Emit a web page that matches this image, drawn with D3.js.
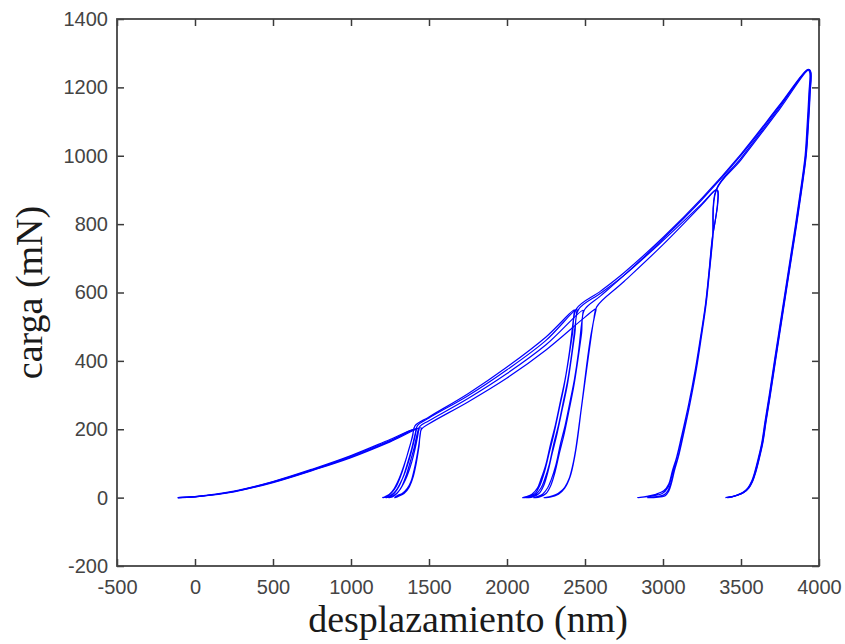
<!DOCTYPE html>
<html>
<head>
<meta charset="utf-8">
<script src="https://cdn.jsdelivr.net/npm/d3@7"></script>
<style>
    body { margin: 0; background: #fff; }
    .tick text { font-family: "Liberation Sans", Arial, sans-serif; font-size: 20px; fill: #444; }
    .tick line { stroke: #3a3a3a; stroke-width: 1.5; }
    .titulo { font-family: "Liberation Serif", "Times New Roman", serif; font-size: 38px; fill: #1a1a1a; }
</style>
</head>
<body>
<div id="Chart_1"></div>
<script>

// ticks
const xTicks = [-500, 0, 500, 1000, 1500, 2000, 2500, 3000, 3500, 4000];
const yTicks = [-200, 0, 200, 400, 600, 800, 1000, 1200, 1400];

// desplazamiento (nm), carga (mN)
const ensayo1 = [
    [-110, 0], [0, 3], [250, 19], [500, 47], [750, 83], [1000, 123], [1250, 170], [1400, 198],
    [1398, 190], [1383, 160], [1361, 125], [1340, 95], [1319, 68], [1298, 45], [1276, 26], [1255, 14], [1233, 6], [1215, 2], [1203, 0],
    [1230, 3], [1260, 14], [1290, 33], [1320, 65], [1345, 100], [1370, 140], [1395, 180], [1410, 210],
    [1500, 236], [1750, 304], [2000, 382], [2250, 470], [2432, 549],
    [2430, 540], [2420, 500], [2400, 425], [2372, 345], [2344, 285], [2310, 212], [2280, 158], [2248, 95], [2216, 52], [2195, 28], [2160, 10], [2125, 3], [2099, 0],
    [2140, 2], [2180, 12], [2210, 35], [2240, 75], [2270, 130], [2300, 185], [2335, 260], [2365, 325], [2395, 405], [2420, 480], [2445, 552],
    [2600, 604], [2750, 658], [3000, 761], [3250, 876], [3500, 1005], [3750, 1150], [3928, 1252],
    [3940, 1245], [3935, 1180], [3924, 1090], [3911, 1000], [3882, 900], [3850, 800], [3816, 700], [3781, 597], [3748, 500], [3715, 402], [3681, 300], [3653, 220], [3633, 160], [3608, 110], [3588, 75], [3568, 48], [3543, 28], [3510, 15], [3470, 7], [3430, 2], [3400, 0]
];

const ensayo2 = [
    [-110, 0], [0, 3], [250, 18], [500, 46], [750, 81], [1000, 121], [1250, 167], [1418, 201],
    [1415, 190], [1400, 158], [1380, 122], [1360, 92], [1340, 66], [1318, 44], [1296, 26], [1275, 14], [1252, 6], [1235, 2], [1222, 0],
    [1250, 3], [1280, 14], [1310, 35], [1340, 68], [1365, 105], [1390, 145], [1412, 188], [1425, 210],
    [1500, 233], [1750, 298], [2000, 374], [2250, 460], [2447, 551],
    [2446, 540], [2436, 500], [2416, 425], [2390, 345], [2363, 285], [2330, 212], [2300, 158], [2270, 95], [2240, 52], [2218, 28], [2185, 10], [2150, 3], [2125, 0],
    [2165, 2], [2205, 12], [2235, 35], [2262, 75], [2290, 130], [2320, 185], [2355, 260], [2385, 325], [2412, 405], [2435, 480], [2458, 550],
    [2600, 598], [2750, 650], [3000, 752], [3250, 860], [3342, 901],
    [3350, 896], [3349, 858], [3334, 808], [3316, 760], [3295, 662], [3272, 565], [3240, 468], [3206, 372], [3164, 272], [3117, 176], [3087, 118], [3060, 78], [3037, 40], [3005, 20], [2955, 10], [2895, 4], [2836, 0],
    [2885, 2], [2945, 6], [2995, 12], [3032, 30], [3058, 65], [3087, 115], [3119, 175], [3166, 275], [3208, 372], [3242, 470], [3274, 567], [3297, 664], [3318, 762], [3340, 900],
    [3500, 993], [3750, 1143], [3932, 1253],
    [3944, 1247], [3939, 1180], [3928, 1090], [3914, 1000], [3885, 900], [3853, 800], [3819, 700], [3784, 597], [3751, 500], [3718, 402], [3684, 300], [3656, 220], [3636, 160], [3611, 110], [3591, 75], [3571, 48], [3546, 28], [3515, 15], [3475, 7], [3440, 2], [3410, 0]
];

const ensayo3 = [
    [-110, 0], [0, 2], [250, 18], [500, 45], [750, 80], [1000, 119], [1250, 165], [1435, 203],
    [1432, 192], [1418, 158], [1400, 122], [1380, 90], [1360, 64], [1338, 42], [1316, 25], [1294, 13], [1272, 6], [1255, 2], [1240, 0],
    [1268, 3], [1298, 14], [1328, 35], [1356, 68], [1380, 105], [1404, 145], [1425, 188], [1440, 208],
    [1500, 225], [1750, 290], [2000, 363], [2250, 447], [2487, 548],
    [2486, 538], [2476, 500], [2458, 425], [2432, 345], [2406, 285], [2373, 212], [2343, 158], [2313, 95], [2283, 52], [2260, 28], [2228, 10], [2195, 3], [2170, 0],
    [2210, 2], [2250, 12], [2280, 35], [2308, 75], [2336, 130], [2366, 185], [2400, 260], [2428, 325], [2455, 405], [2478, 480], [2495, 548],
    [2600, 590], [2750, 650], [3000, 757], [3250, 872], [3500, 1001], [3750, 1147], [3930, 1251],
    [3945, 1246], [3941, 1180], [3930, 1090], [3916, 1000], [3887, 900], [3855, 800], [3821, 700], [3786, 597], [3753, 500], [3720, 402], [3686, 300], [3658, 220], [3638, 160], [3613, 110], [3593, 75], [3573, 48], [3548, 28], [3517, 15], [3478, 7], [3442, 2], [3415, 0]
];

const ensayo4 = [
    [-110, 0], [0, 2], [250, 17], [500, 44], [750, 79], [1000, 117], [1250, 163], [1450, 204],
    [1447, 195], [1436, 158], [1420, 115], [1404, 80], [1385, 48], [1361, 27], [1330, 13], [1297, 6], [1280, 0],
    [1300, 3], [1340, 12], [1372, 30], [1398, 60], [1418, 100], [1436, 150], [1452, 200],
    [1500, 216], [1750, 280], [2000, 350], [2250, 432], [2500, 528], [2570, 552],
    [2566, 540], [2550, 505], [2536, 470], [2510, 385], [2483, 285], [2460, 205], [2440, 140], [2420, 92], [2398, 55], [2370, 30], [2344, 18], [2310, 8], [2270, 2], [2237, 0],
    [2275, 1], [2330, 10], [2370, 28], [2405, 62], [2428, 105], [2450, 165], [2475, 255], [2500, 340], [2530, 440], [2556, 520], [2575, 558],
    [2750, 632], [3000, 740], [3250, 857], [3340, 900],
    [3352, 898], [3351, 860], [3335, 810], [3318, 763], [3297, 665], [3275, 568], [3244, 470], [3211, 373], [3171, 275], [3125, 178], [3096, 120], [3071, 80], [3050, 42], [3031, 20], [3006, 8], [2960, 3], [2900, 0],
    [2955, 1], [3012, 5], [3036, 18], [3054, 42], [3074, 80], [3099, 120], [3128, 178], [3173, 275], [3213, 373], [3246, 470], [3277, 568], [3299, 665], [3320, 763], [3342, 900],
    [3500, 988], [3750, 1138], [3935, 1252],
    [3947, 1246], [3943, 1180], [3932, 1090], [3918, 1000], [3889, 900], [3857, 800], [3823, 700], [3788, 597], [3755, 500], [3722, 402], [3688, 300], [3660, 220], [3640, 160], [3615, 110], [3595, 75], [3575, 48], [3550, 28], [3520, 16], [3480, 8], [3445, 3], [3420, 0]
];

const ensayos = [ensayo1, ensayo2, ensayo3, ensayo4];

draw_chart();

function draw_chart() {
    let margin = {top: 19, right: 26, bottom: 78, left: 117};

    let width = 845 - margin.left - margin.right,
        height = 644 - margin.top - margin.bottom;

    let svg = d3.select("#Chart_1")
        .append("svg")
        .attr("width", width + margin.left + margin.right)
        .attr("height", height + margin.top + margin.bottom)
        .append("g")
        .attr("transform", "translate(" + margin.left + "," + margin.top + ")");

    let xScale = d3.scaleLinear()
        .domain([-500, 4000])
        .range([0, width]);

    let yScale = d3.scaleLinear()
        .domain([-200, 1400])
        .range([height, 0]);

    let plain = d => String(d);

    // ejes con ticks hacia dentro
    svg.append("g")
        .attr("class", "axis")
        .attr("transform", "translate(0," + height + ")")
        .call(d3.axisBottom(xScale).tickValues(xTicks).tickFormat(plain).tickSizeInner(-7).tickSizeOuter(0).tickPadding(14));

    svg.append("g")
        .attr("class", "axis")
        .call(d3.axisLeft(yScale).tickValues(yTicks).tickFormat(plain).tickSizeInner(-7).tickSizeOuter(0).tickPadding(9));

    svg.append("g")
        .attr("class", "axis")
        .call(d3.axisTop(xScale).tickValues(xTicks).tickSizeInner(-7).tickSizeOuter(0).tickFormat(""));

    svg.append("g")
        .attr("class", "axis")
        .attr("transform", "translate(" + width + ",0)")
        .call(d3.axisRight(yScale).tickValues(yTicks).tickSizeInner(-7).tickSizeOuter(0).tickFormat(""));

    svg.selectAll(".axis .domain").remove();

    svg.append("rect")
        .attr("x", 0)
        .attr("y", 0)
        .attr("width", width)
        .attr("height", height)
        .attr("fill", "none")
        .attr("stroke", "#444")
        .attr("stroke-width", 1.8);

    let line = d3.line()
        .x(d => xScale(d[0]))
        .y(d => yScale(d[1]))
        .curve(d3.curveCatmullRom.alpha(0.5));

    svg.selectAll(".ensayo")
        .data(ensayos)
        .enter()
        .append("path")
        .attr("class", "ensayo")
        .attr("d", line)
        .attr("fill", "none")
        .attr("stroke", "#0000ff")
        .attr("stroke-width", 1.2)
        .attr("stroke-linejoin", "round");

    svg.append("text")
        .attr("class", "titulo")
        .attr("text-anchor", "middle")
        .attr("x", width / 2)
        .attr("y", height + 66)
        .text("desplazamiento (nm)");

    svg.append("text")
        .attr("class", "titulo")
        .attr("text-anchor", "middle")
        .attr("transform", "translate(" + (42 - margin.left) + "," + (height / 2) + ") rotate(-90)")
        .text("carga (mN)");
}
</script>
</body>
</html>
